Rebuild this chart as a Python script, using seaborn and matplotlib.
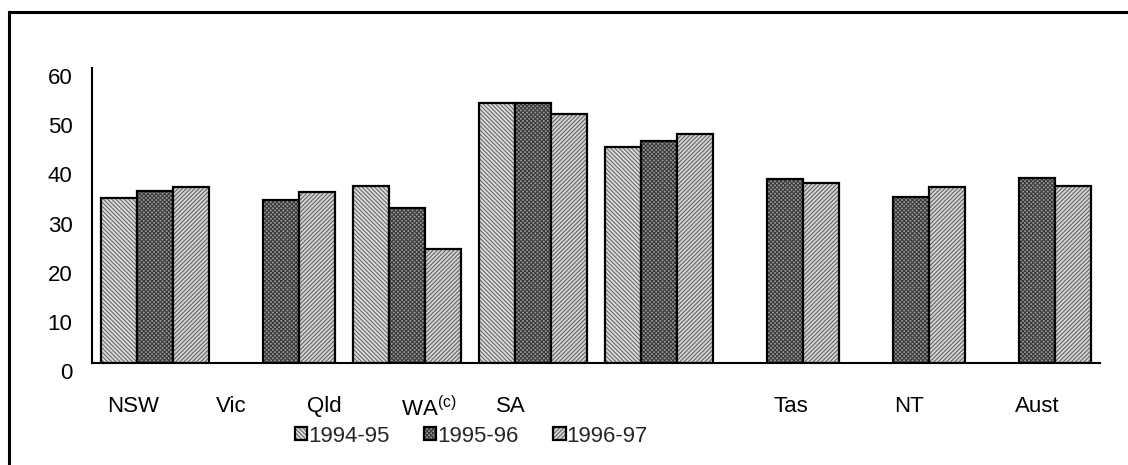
import numpy as np
import pandas as pd
import matplotlib
matplotlib.use("Agg")
import matplotlib.pyplot as plt
import matplotlib.colors as mcolors
from matplotlib.patches import Rectangle
from matplotlib.transforms import ScaledTranslation
import seaborn as sns

# data
regions = ["NSW", "Vic", "Qld", "WA", "SA", "Tas", "NT", "Aust"]
tick_labels = ["NSW", "Vic", "Qld", r"WA$^{\mathregular{(c)}}$", "SA", "Tas", "NT", "Aust"]
years = ["1994-95", "1995-96", "1996-97"]
v_9495 = [33.5, np.nan, 35.9, 52.9, 44.0, np.nan, np.nan, np.nan]
v_9596 = [35.0, 33.2, 31.5, 52.8, 45.2, 37.4, 33.8, 37.6]
v_9697 = [35.7, 34.8, 23.2, 50.6, 46.5, 36.7, 35.7, 36.0]

# the category labels sit off-centre in the original
label_x = [-0.175, 0.603, 1.341, 2.171, 2.825, 5.048, 5.984, 7.0]

df = pd.DataFrame({
    "region": regions * 3,
    "year": np.repeat(years, len(regions)),
    "value": v_9495 + v_9596 + v_9697,
})

sns.set_style("white")
plt.rcParams["font.family"] = ["Liberation Sans", "DejaVu Sans"]
plt.rcParams["mathtext.fontset"] = "custom"
plt.rcParams["hatch.linewidth"] = 0.8
fs = 16

fig = plt.figure(figsize=(11.28, 4.65), dpi=100)
ax = fig.add_axes([92 / 1128, 1 - 363 / 465, 1008 / 1128, 295 / 465])

sns.barplot(data=df, x="region", y="value", hue="year", order=regions,
            hue_order=years, width=6 / 7, errorbar=None, legend=False,
            palette=["#dcdcdc", "#999999", "#d4d4d4"], ax=ax)

styles = [("\\" * 8, "#6a6a6a"), ("x" * 8, "#3a3a3a"), ("/" * 8, "#666666")]
for cont, (hatch, hcol) in zip(ax.containers, styles):
    for p in cont:
        p.set_hatch(hatch)
        p.set_edgecolor("black")
        p.set_linewidth(1.6)
        p._hatch_color = mcolors.to_rgba(hcol)

ax.set_xlim(-0.5, 7.5)
ax.set_ylim(0, 60)
ax.set_yticks(range(0, 61, 10))
ax.set_xticks(label_x)
ax.set_xticklabels(tick_labels)
ax.set_xlabel("")
ax.set_ylabel("")
ax.tick_params(axis="both", length=0, labelsize=fs, colors="black")
ax.tick_params(axis="x", pad=24)
ax.tick_params(axis="y", pad=14)
for lab in ax.get_yticklabels():
    lab.set_transform(lab.get_transform() + ScaledTranslation(0, -8 / 100, fig.dpi_scale_trans))

for side in ["top", "right"]:
    ax.spines[side].set_visible(False)
for side in ["left", "bottom"]:
    ax.spines[side].set_color("black")
    ax.spines[side].set_linewidth(1.5)

ax.legend(ax.containers, years, loc="center left",
          bbox_to_anchor=(295 / 1128, 1 - 436 / 465), bbox_transform=fig.transFigure,
          ncol=3, frameon=False, fontsize=fs, handlelength=0.55, handleheight=0.55,
          handletextpad=0.05, columnspacing=1.55, borderpad=0, borderaxespad=0)

# outer frame, only its left and top edges fall inside the picture
fig.patches.append(Rectangle((9.3 / 1128, -0.2), 1.5, 1.2 - 12 / 465,
                             transform=fig.transFigure, fill=False,
                             edgecolor="black", linewidth=2.2))

fig.savefig("out.png", dpi=100)
